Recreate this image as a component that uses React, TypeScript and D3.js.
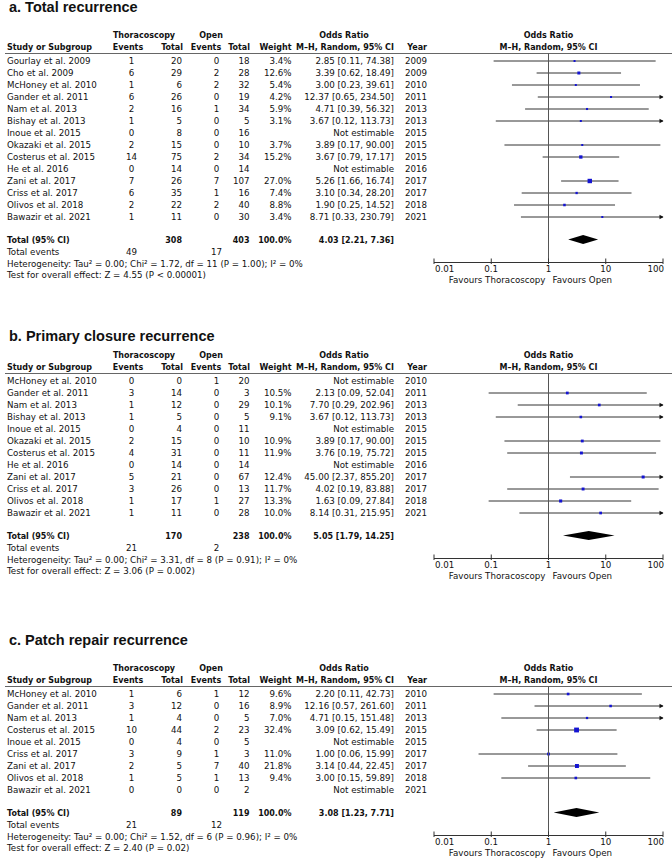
import React from "react";
import * as d3 from "d3";

// [study, thoraco events, thoraco total, open events, open total, weight %, OR, lower, upper, year]
type Row = [string, number, number, number, number, number | null, number | null, number | null, number | null, number];

const rowsA: Row[] = [
    ["Gourlay et al. 2009", 1, 20, 0, 18, 3.4, 2.85, 0.11, 74.38, 2009],
    ["Cho et al. 2009", 6, 29, 2, 28, 12.6, 3.39, 0.62, 18.49, 2009],
    ["McHoney et al. 2010", 1, 6, 2, 32, 5.4, 3.0, 0.23, 39.61, 2010],
    ["Gander et al. 2011", 6, 26, 0, 19, 4.2, 12.37, 0.65, 234.5, 2011],
    ["Nam et al. 2013", 2, 16, 1, 34, 5.9, 4.71, 0.39, 56.32, 2013],
    ["Bishay et al. 2013", 1, 5, 0, 5, 3.1, 3.67, 0.12, 113.73, 2013],
    ["Inoue et al. 2015", 0, 8, 0, 16, null, null, null, null, 2015],
    ["Okazaki et al. 2015", 2, 15, 0, 10, 3.7, 3.89, 0.17, 90.0, 2015],
    ["Costerus et al. 2015", 14, 75, 2, 34, 15.2, 3.67, 0.79, 17.17, 2015],
    ["He et al. 2016", 0, 14, 0, 14, null, null, null, null, 2016],
    ["Zani et al. 2017", 7, 26, 7, 107, 27.0, 5.26, 1.66, 16.74, 2017],
    ["Criss et al. 2017", 6, 35, 1, 16, 7.4, 3.1, 0.34, 28.2, 2017],
    ["Olivos et al. 2018", 2, 22, 2, 40, 8.8, 1.9, 0.25, 14.52, 2018],
    ["Bawazir et al. 2021", 1, 11, 0, 30, 3.4, 8.71, 0.33, 230.79, 2021],
];

const rowsB: Row[] = [
    ["McHoney et al. 2010", 0, 0, 1, 20, null, null, null, null, 2010],
    ["Gander et al. 2011", 3, 14, 0, 3, 10.5, 2.13, 0.09, 52.04, 2011],
    ["Nam et al. 2013", 1, 12, 0, 29, 10.1, 7.7, 0.29, 202.96, 2013],
    ["Bishay et al. 2013", 1, 5, 0, 5, 9.1, 3.67, 0.12, 113.73, 2013],
    ["Inoue et al. 2015", 0, 4, 0, 11, null, null, null, null, 2015],
    ["Okazaki et al. 2015", 2, 15, 0, 10, 10.9, 3.89, 0.17, 90.0, 2015],
    ["Costerus et al. 2015", 4, 31, 0, 11, 11.9, 3.76, 0.19, 75.72, 2015],
    ["He et al. 2016", 0, 14, 0, 14, null, null, null, null, 2016],
    ["Zani et al. 2017", 5, 21, 0, 67, 12.4, 45.0, 2.37, 855.2, 2017],
    ["Criss et al. 2017", 3, 26, 0, 13, 11.7, 4.02, 0.19, 83.88, 2017],
    ["Olivos et al. 2018", 1, 17, 1, 27, 13.3, 1.63, 0.09, 27.84, 2018],
    ["Bawazir et al. 2021", 1, 11, 0, 28, 10.0, 8.14, 0.31, 215.95, 2021],
];

const rowsC: Row[] = [
    ["McHoney et al. 2010", 1, 6, 1, 12, 9.6, 2.2, 0.11, 42.73, 2010],
    ["Gander et al. 2011", 3, 12, 0, 16, 8.9, 12.16, 0.57, 261.6, 2011],
    ["Nam et al. 2013", 1, 4, 0, 5, 7.0, 4.71, 0.15, 151.48, 2013],
    ["Costerus et al. 2015", 10, 44, 2, 23, 32.4, 3.09, 0.62, 15.49, 2015],
    ["Inoue et al. 2015", 0, 4, 0, 5, null, null, null, null, 2015],
    ["Criss et al. 2017", 3, 9, 1, 3, 11.0, 1.0, 0.06, 15.99, 2017],
    ["Zani et al. 2017", 2, 5, 7, 40, 21.8, 3.14, 0.44, 22.45, 2017],
    ["Olivos et al. 2018", 1, 5, 1, 13, 9.4, 3.0, 0.15, 59.89, 2018],
    ["Bawazir et al. 2021", 0, 0, 0, 2, null, null, null, null, 2021],
];

const panelRows = [rowsA, rowsB, rowsC];
const titles = ["a. Total recurrence", "b. Primary closure recurrence", "c. Patch repair recurrence"];
const pooledOR = [4.03, 5.05, 3.08];
const pooledLo = [2.21, 1.79, 1.23];
const pooledHi = [7.36, 14.25, 7.71];
const tau2 = ["0.00", "0.00", "0.00"];
const chi2 = ["1.72", "3.31", "1.52"];
const dfs = [11, 8, 6];
const pHet = ["1.00", "0.91", "0.96"];
const i2 = [0, 0, 0];
const zVals = ["4.55", "3.06", "2.40"];
const pZ = ["P < 0.00001", "P = 0.002", "P = 0.02"];
const axisTicks = [0.01, 0.1, 1, 10, 100];

// layout
const W = 672;
const H = 859;
const titleY = [12, 341, 645];
const headY = [38, 358, 671];
const pitch = 12;
const FONT = "DejaVu Sans";
const FS = 8.7;
const FSB = 8;

const x = d3.scaleLog().domain([0.01, 100]).range([434, 663]);

const fmt2 = d3.format(".2f");

const Panel = ({ idx }: { idx: number }) => {
    const rows = panelRows[idx];
    const h = headY[idx];
    const lineY = h + 15.5;
    const first = h + 23;
    const last = first + pitch * (rows.length - 1);
    const totalY = last + 22.5;
    const axisY = last + 45.5;
    const x1 = x(1);

    const thTot = d3.sum(rows, (r) => r[2]);
    const opTot = d3.sum(rows, (r) => r[4]);
    const thEv = d3.sum(rows, (r) => r[1]);
    const opEv = d3.sum(rows, (r) => r[3]);

    const diamond = [
        [x(pooledLo[idx]), totalY],
        [x(pooledOR[idx]), totalY - 4.5],
        [x(pooledHi[idx]), totalY],
        [x(pooledOR[idx]), totalY + 4.5],
    ];

    return (
        <g>
            <text x={9} y={titleY[idx]} fontFamily="Liberation Sans" fontWeight="bold" fontSize={14.5}>
                {titles[idx]}
            </text>

            {/* column headers */}
            <g fontWeight="bold" fontSize={FSB}>
                <text x={144} y={h} textAnchor="middle">Thoracoscopy</text>
                <text x={211} y={h} textAnchor="middle">Open</text>
                <text x={344} y={h} textAnchor="middle">Odds Ratio</text>
                <text x={x1} y={h} textAnchor="middle">Odds Ratio</text>
                <text x={7} y={h + 12}>Study or Subgroup</text>
                <text x={128} y={h + 12} textAnchor="middle">Events</text>
                <text x={183} y={h + 12} textAnchor="end">Total</text>
                <text x={206} y={h + 12} textAnchor="middle">Events</text>
                <text x={250} y={h + 12} textAnchor="end">Total</text>
                <text x={291.5} y={h + 12} textAnchor="end">Weight</text>
                <text x={345} y={h + 12} textAnchor="middle">M–H, Random, 95% CI</text>
                <text x={427} y={h + 12} textAnchor="end">Year</text>
                <text x={x1} y={h + 12} textAnchor="middle">M–H, Random, 95% CI</text>
            </g>
            <line x1={5} x2={W} y1={lineY} y2={lineY} stroke="#666" strokeWidth={1} />

            {/* study rows */}
            {rows.map((r, i) => {
                const cy = first + i * pitch;
                const ty = cy + 3.2;
                const [name, te, tt, oe, ot, w, or, lo, hi, yr] = r;
                return (
                    <g key={name + i}>
                        <text x={7} y={ty}>{name}</text>
                        <text x={131.5} y={ty} textAnchor="middle">{te}</text>
                        <text x={182} y={ty} textAnchor="end">{tt}</text>
                        <text x={216.5} y={ty} textAnchor="middle">{oe}</text>
                        <text x={249.5} y={ty} textAnchor="end">{ot}</text>
                        {w !== null && <text x={291.5} y={ty} textAnchor="end">{w.toFixed(1)}%</text>}
                        <text x={394} y={ty} textAnchor="end">
                            {or === null ? "Not estimable" : `${fmt2(or)} [${fmt2(lo as number)}, ${fmt2(hi as number)}]`}
                        </text>
                        <text x={427} y={ty} textAnchor="end">{yr}</text>
                        {or !== null && w !== null && (() => {
                            const xl = x(Math.max(lo as number, 0.01));
                            const xr = x(Math.min(hi as number, 100));
                            const s = Math.max(2, 0.85 * Math.sqrt(w));
                            return (
                                <g>
                                    <line x1={xl} x2={xr} y1={cy} y2={cy} stroke="#333" strokeWidth={1} />
                                    {(hi as number) > 100 && (
                                        <path d={`M${xr - 3.5},${cy - 2.2}L${xr + 0.5},${cy}L${xr - 3.5},${cy + 2.2}Z`} fill="#111" />
                                    )}
                                    <rect x={x(or) - s / 2} y={cy - s / 2} width={s} height={s} fill="#1414d2" />
                                </g>
                            );
                        })()}
                    </g>
                );
            })}

            {/* totals */}
            <g fontWeight="bold" fontSize={FSB}>
                <text x={7} y={totalY + 3.2}>Total (95% CI)</text>
                <text x={182} y={totalY + 3.2} textAnchor="end">{thTot}</text>
                <text x={249.5} y={totalY + 3.2} textAnchor="end">{opTot}</text>
                <text x={291.5} y={totalY + 3.2} textAnchor="end">100.0%</text>
                <text x={394} y={totalY + 3.2} textAnchor="end">
                    {`${fmt2(pooledOR[idx])} [${fmt2(pooledLo[idx])}, ${fmt2(pooledHi[idx])}]`}
                </text>
            </g>
            <polygon points={diamond.map((p) => p.join(",")).join(" ")} fill="#000" />
            <text x={7} y={last + 38}>Total events</text>
            <text x={131.5} y={last + 38} textAnchor="middle">{thEv}</text>
            <text x={216.5} y={last + 38} textAnchor="middle">{opEv}</text>
            <text x={7} y={last + 49.5}>
                {`Heterogeneity: Tau² = ${tau2[idx]}; Chi² = ${chi2[idx]}, df = ${dfs[idx]} (P = ${pHet[idx]}); I² = ${i2[idx]}%`}
            </text>
            <text x={7} y={last + 61}>{`Test for overall effect: Z = ${zVals[idx]} (${pZ[idx]})`}</text>

            {/* forest axis */}
            <line x1={x1} x2={x1} y1={lineY} y2={axisY} stroke="#555" strokeWidth={1} />
            <line x1={x(0.01)} x2={x(100)} y1={axisY} y2={axisY} stroke="#333" strokeWidth={1} />
            {axisTicks.map((t, i) => (
                <g key={t}>
                    <line x1={x(t)} x2={x(t)} y1={axisY - 4} y2={axisY + 1.5} stroke="#333" strokeWidth={1} />
                    <text
                        x={x(t) + (i === 0 ? 1 : i === axisTicks.length - 1 ? 1 : 0)}
                        y={axisY + 9.5}
                        textAnchor={i === 0 ? "start" : i === axisTicks.length - 1 ? "end" : "middle"}
                    >
                        {String(t)}
                    </text>
                </g>
            ))}
            <text x={x1 - 3} y={axisY + 20.5} textAnchor="end">Favours Thoracoscopy</text>
            <text x={x1 + 4} y={axisY + 20.5}>Favours Open</text>
        </g>
    );
};

export default function App() {
    return (
        <svg
            width={W}
            height={H}
            viewBox={`0 0 ${W} ${H}`}
            style={{ position: "absolute", left: 0, top: 0, background: "#fff" }}
            fontFamily={FONT}
            fontSize={FS}
            fill="#111"
        >
            <rect width={W} height={H} fill="#fff" />
            {[0, 1, 2].map((i) => (
                <Panel key={i} idx={i} />
            ))}
        </svg>
    );
}
